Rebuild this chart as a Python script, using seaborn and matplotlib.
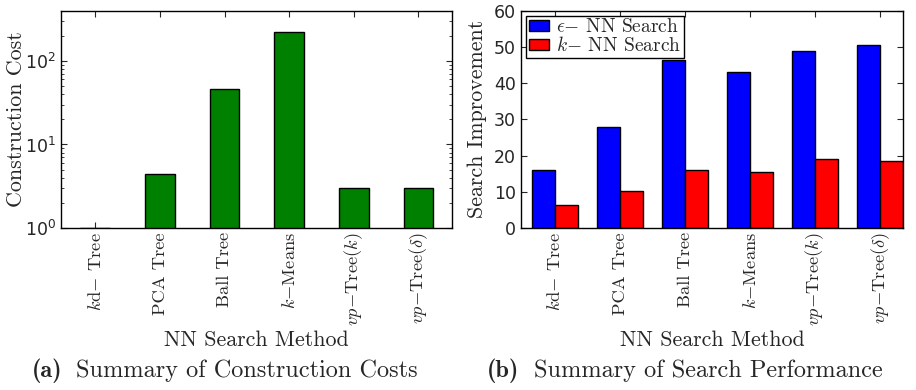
import seaborn as sns
import matplotlib.pyplot as plt
import pandas as pd
from matplotlib.patches import Patch

# data
methods = [r'$k$d$-$ Tree', 'PCA Tree', 'Ball Tree', r'$k$$-$Means',
           r'$vp$$-$Tree($k$)', r'$vp$$-$Tree($\delta$)']
construction_cost = [1.0, 4.4, 46.0, 221.0, 3.05, 3.05]
eps_search = [15.9, 27.9, 46.4, 43.0, 49.0, 50.6]
knn_search = [6.3, 10.3, 16.0, 15.4, 19.1, 18.4]
series_names = [r'$\epsilon$$-$ NN Search', r'$k$$-$ NN Search']
series_colors = ['#0000ff', '#ff0000']

sns.set_style('ticks')
plt.rcParams['font.family'] = ['DejaVu Sans']
plt.rcParams['xtick.direction'] = 'in'
plt.rcParams['ytick.direction'] = 'in'
plt.rcParams['xtick.top'] = True
plt.rcParams['ytick.right'] = True
plt.rcParams['axes.edgecolor'] = 'black'
plt.rcParams['axes.linewidth'] = 1.0

fig = plt.figure(figsize = (9.16, 3.9), dpi = 100)
ax1 = fig.add_axes([0.0666, 0.4154, 0.4269, 0.5572])
ax2 = fig.add_axes([0.5688, 0.4154, 0.4170, 0.5572])

label_font = {'family': 'cmr10', 'size': 15.8}
tick_font = {'family': 'cmr10', 'size': 13.3}

# (a) construction costs, log scale
df1 = pd.DataFrame({'method': methods, 'cost': construction_cost})
sns.barplot(data = df1, x = 'method', y = 'cost', color = '#008000',
            saturation = 1, width = 0.46, edgecolor = 'black',
            linewidth = 1.0, ax = ax1)
ax1.set_yscale('log')
ax1.set_ylim(1, 400)
ax1.set_xlim(-0.53, 5.52)
ax1.set_ylabel('Construction Cost', fontdict = label_font)

# (b) search improvement
df2 = pd.DataFrame({
    'method': methods * 2,
    'value': eps_search + knn_search,
    'search': [series_names[0]] * len(methods) + [series_names[1]] * len(methods),
})
sns.barplot(data = df2, x = 'method', y = 'value', hue = 'search',
            hue_order = series_names, palette = series_colors,
            saturation = 1, width = 0.7, edgecolor = 'black',
            linewidth = 1.0, legend = False, ax = ax2)
ax2.set_ylim(0, 60)
ax2.set_xlim(-0.52, 5.35)
ax2.set_ylabel('Search Improvement', fontdict = label_font)
handles = [Patch(facecolor = c, edgecolor = 'black', label = n)
           for c, n in zip(series_colors, series_names)]
leg = ax2.legend(handles = handles, loc = 'upper left', fancybox = False,
                 framealpha = 1, edgecolor = 'black',
                 prop = {'family': 'cmr10', 'size': 14},
                 borderpad = 0.15, labelspacing = 0.0, handlelength = 1.05,
                 handleheight = 0.5, handletextpad = 0.35, borderaxespad = 0.25)
leg.get_frame().set_linewidth(1.0)
for t in leg.get_texts():
    t.set_math_fontfamily('cm')

for ax in (ax1, ax2):
    ax.set_xticks(range(len(methods)))
    ax.set_xticklabels(methods, rotation = 90, fontdict = tick_font)
    for t in ax.get_xticklabels():
        t.set_math_fontfamily('cm')
    ax.tick_params(axis = 'y', labelsize = 12.5)
    ax.tick_params(which = 'major', length = 4, width = 0.8)
    ax.tick_params(which = 'minor', length = 2, width = 0.6)
    ax.tick_params(axis = 'x', which = 'major', pad = 3)
    ax.set_xlabel('NN Search Method', fontdict = label_font)
    ax.xaxis.set_label_coords(0.5, -0.47)
    for s in ax.spines.values():
        s.set_visible(True)

ax1.yaxis.set_label_coords(-0.09, 0.5)
ax2.yaxis.set_label_coords(-0.09, 0.5)

# captions with bold tag
cap = 13 / 390
fig.text(32 / 916, cap, '(a)', family = 'cmb10', size = 17.5, va = 'baseline')
fig.text(76 / 916, cap, 'Summary of Construction Costs', family = 'cmr10',
         size = 17.5, va = 'baseline')
fig.text(487 / 916, cap, '(b)', family = 'cmb10', size = 17.5, va = 'baseline')
fig.text(534 / 916, cap, 'Summary of Search Performance', family = 'cmr10',
         size = 17.5, va = 'baseline')

plt.savefig('out.png', dpi = 100)
